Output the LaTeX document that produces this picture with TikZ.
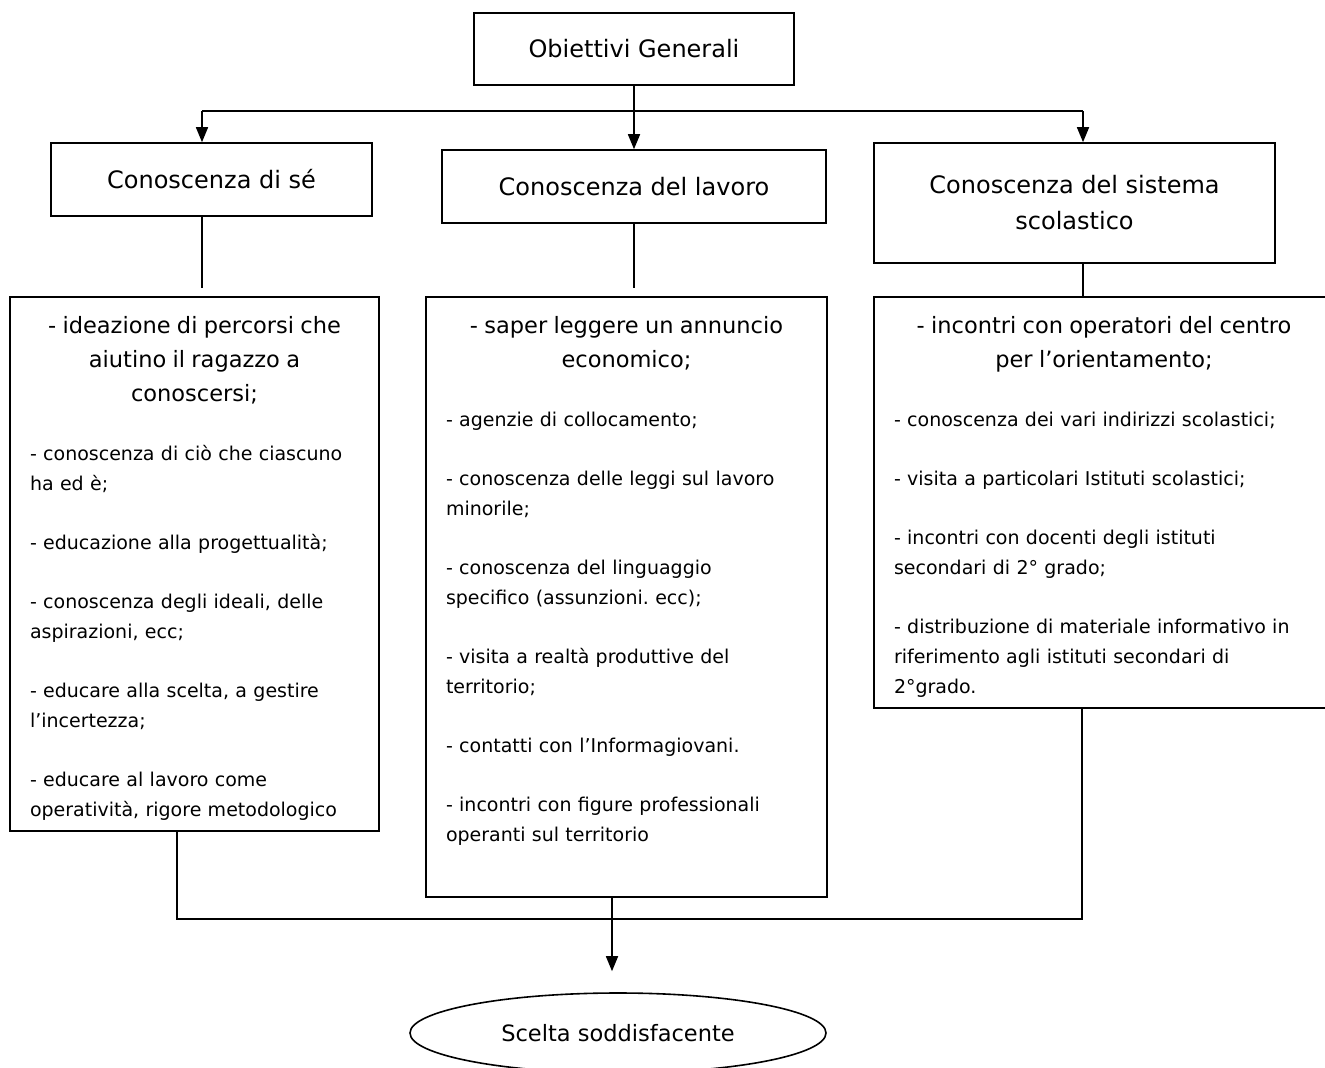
\documentclass[tikz,border=0pt]{standalone}
\usepackage{fontspec}
\setmainfont{DejaVu Sans}
\usepackage{tikz}
\usetikzlibrary{arrows.meta,positioning,shapes.geometric,calc}
\definecolor{Ink}{RGB}{0,0,0}
\setlength{\parindent}{0pt}
\frenchspacing
\newcommand{\ttl}{\fontsize{22.5}{34}\selectfont}
\newcommand{\gap}{\par\vspace{29pt}}

\begin{document}
\begin{tikzpicture}[x=1pt,y=-1pt,line width=1.6pt,
  box/.style={draw=Ink,rectangle,inner sep=0pt},
  head/.style={box,font=\fontsize{24}{36}\selectfont,align=center},
  list/.style={anchor=north,inner sep=0pt,font=\fontsize{19}{30}\selectfont},
  arr/.style={-{Triangle[length=15pt,width=12pt]}}]
  \clip (0,0) rectangle (1325,1068);

  % obiettivi e tre aree
  \node[head,minimum width=320pt,minimum height=72pt] (gen) at (634,49) {Obiettivi Generali};
  \node[head,minimum width=321pt,minimum height=73pt] (se) at (211.5,179.5) {Conoscenza di sé};
  \node[head,minimum width=384pt,minimum height=73pt] (lav) at (634,186.5) {Conoscenza del lavoro};
  \node[head,minimum width=401pt,minimum height=120pt] (sis) at (1074.5,203) {Conoscenza del sistema\\scolastico};

  \coordinate (split) at (634,111);
  \coordinate (splitL) at (202,111);
  \coordinate (splitR) at (1083,111);
  \draw (gen.south) -- (split);
  \draw (splitL) -- (splitR);
  \draw[arr] (splitL) -- (splitL |- se.north);
  \draw[arr] (split) -- (lav.north);
  \draw[arr] (splitR) -- (splitR |- sis.north);

  % riquadri delle attivita
  \node[box,minimum width=369pt,minimum height=534pt] (lsx) at (194.5,564) {};
  \node[box,minimum width=401pt,minimum height=600pt] (lmid) at (626.5,597) {};
  \node[box,minimum width=460pt,minimum height=411pt] (ldx) at (1104,502.5) {};

  \node[list,text width=329pt] (tsx) at ([yshift=-19pt]lsx.north) {%
    {\centering\ttl - ideazione di percorsi che\\aiutino il ragazzo a\\conoscersi;\par}\gap
    \raggedright
    - conoscenza di ciò che ciascuno\\ha ed è;\gap
    - educazione alla progettualità;\gap
    - conoscenza degli ideali, delle\\aspirazioni, ecc;\gap
    - educare alla scelta, a gestire\\l'incertezza;\gap
    - educare al lavoro come\\operatività, rigore metodologico\par};
  \node[list,text width=361pt] (tmid) at ([yshift=-19pt]lmid.north) {%
    {\centering\ttl - saper leggere un annuncio\\economico;\par}\gap
    \raggedright
    - agenzie di collocamento;\gap
    - conoscenza delle leggi sul lavoro\\minorile;\gap
    - conoscenza del linguaggio\\specifico (assunzioni. ecc);\gap
    - visita a realtà produttive del\\territorio;\gap
    - contatti con l'Informagiovani.\gap
    - incontri con figure professionali\\operanti sul territorio\par};
  \node[list,text width=420pt] (tdx) at ([yshift=-19pt]ldx.north) {%
    {\centering\ttl - incontri con operatori del centro\\per l'orientamento;\par}\gap
    \raggedright
    - conoscenza dei vari indirizzi scolastici;\gap
    - visita a particolari Istituti scolastici;\gap
    - incontri con docenti degli istituti\\secondari di 2° grado;\gap
    - distribuzione di materiale informativo in\\riferimento agli istituti secondari di\\2°grado.\par};

  \coordinate (endL) at (202,288);
  \draw (se.south -| endL) -- (endL);
  \draw (lav.south) -- (lav.south |- endL);
  \draw (sis.south -| splitR) -- (splitR |- ldx.north);

  % scelta finale
  \node[draw=Ink,ellipse,minimum width=416pt,minimum height=80pt,inner sep=0pt,
        font=\fontsize{22.5}{30}\selectfont] (fine) at (618,1033) {Scelta soddisfacente};

  \coordinate (joinL) at (177,919);
  \coordinate (joinR) at (1082,919);
  \coordinate (drop) at (612,919);
  \draw (lsx.south -| joinL) -- (joinL) -- (joinR) -- (ldx.south -| joinR);
  \draw[arr,shorten >=21pt] (lmid.south -| drop) -- (drop |- fine.north);
\end{tikzpicture}
\end{document}
